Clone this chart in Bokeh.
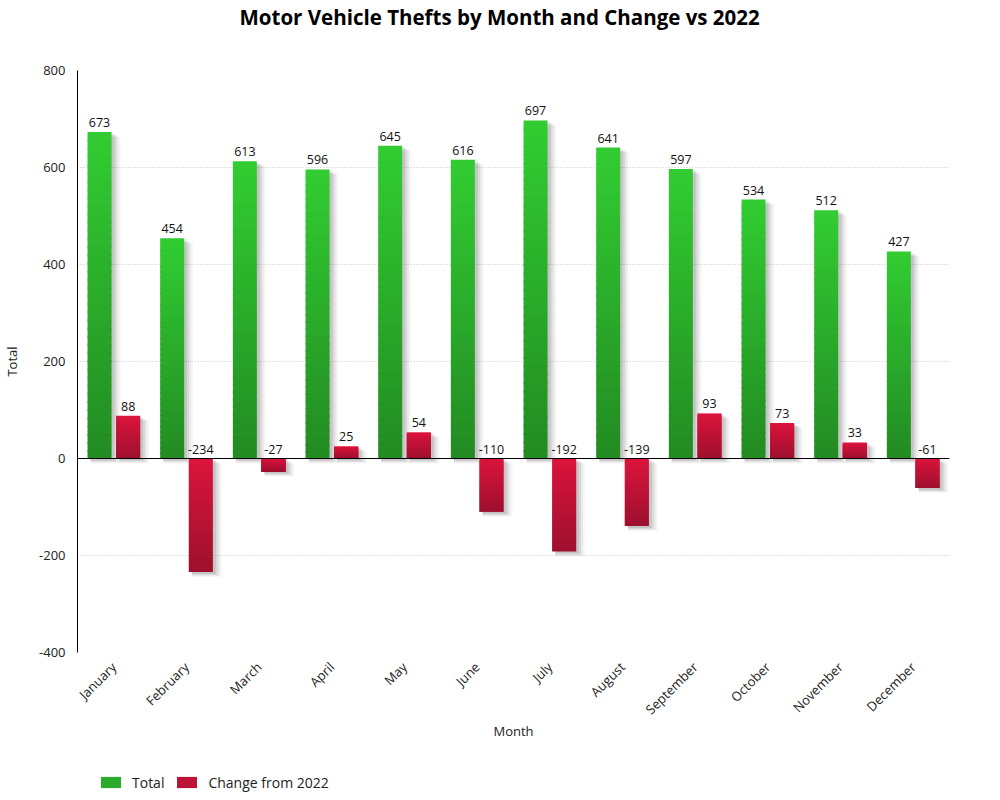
import math
import numpy as np
from bokeh.plotting import figure
from bokeh.layouts import column
from bokeh.models import Span, Legend, LegendItem, ColumnDataSource, Title
from bokeh.transform import dodge
from bokeh.core.properties import value
from bokeh.embed import file_html
from bokeh.resources import INLINE

months = ["January", "February", "March", "April", "May", "June", "July",
          "August", "September", "October", "November", "December"]
totals = [673, 454, 613, 596, 645, 616, 697, 641, 597, 534, 512, 427]
changes = [88, -234, -27, 25, 54, -110, -192, -139, 93, 73, 33, -61]
y_ticks = [-400, -200, 0, 200, 400, 600, 800]
series_names = ["Total", "Change from 2022"]

FONT = "Open Sans"
GREEN_TOP, GREEN_BOT = (50, 205, 50), (34, 139, 34)
RED_TOP, RED_BOT = (220, 20, 60), (158, 16, 47)

p = figure(x_range=months, y_range=(-400, 800), frame_width=872, frame_height=582,
           output_backend="svg", toolbar_location=None,
           min_border_left=0, min_border_right=42, min_border_top=0, min_border_bottom=0)

# spacer between title and frame
p.add_layout(Title(text=" ", text_font=FONT, text_font_size="20px", standoff=11), "above")

p.title.text = "Motor Vehicle Thefts by Month and Change vs 2022"
p.title.text_font = FONT
p.title.text_font_size = "20.5px"
p.title.text_font_style = "bold"
p.title.align = "left"
p.title.text_color = "#000000"
p.title.offset = 162
p.title.standoff = 0

p.outline_line_color = None
p.background_fill_color = "white"
p.border_fill_color = "white"

p.xgrid.grid_line_color = None
p.ygrid.grid_line_color = "#c8c8c8"
p.ygrid.grid_line_dash = "1 2"
p.yaxis.ticker = y_ticks
p.yaxis.major_label_overrides = {t: str(t) for t in y_ticks}

BAR_W = 0.33
OFFS = [-0.197, 0.197]
PX_PER_CAT = 872 / 12
PX_PER_UNIT = 582 / 1200

def hexc(c):
    return "#%02x%02x%02x" % tuple(int(round(v)) for v in c)

def add_series(vals, off, ctop, cbot, n=40):
    vals = np.asarray(vals, dtype=float)
    tops = np.maximum(vals, 0)
    bots = np.minimum(vals, 0)
    # shadow layers
    for k, a in enumerate([0.09, 0.07, 0.05, 0.03]):
        dx = (3 + k) / PX_PER_CAT
        dy = (2 + k) / PX_PER_UNIT
        src = ColumnDataSource(dict(month=months, top=tops - dy, bottom=bots - dy))
        p.vbar(x=dodge("month", off + dx, range=p.x_range), top="top", bottom="bottom",
               width=BAR_W + 2 * k / PX_PER_CAT, source=src, fill_color="#000000",
               fill_alpha=a, line_color=None)
    xs, ts, bs, cs = [], [], [], []
    ov = 1.5 / PX_PER_UNIT
    for m, t, b in zip(months, tops, bots):
        h = t - b
        for i in range(n):
            f = (i + 0.5) / n
            xs.append(m)
            ts.append(t - h * i / n)
            bs.append(max(b, t - h * (i + 1) / n - ov))
            cs.append(hexc([ctop[j] + (cbot[j] - ctop[j]) * f for j in range(3)]))
    src = ColumnDataSource(dict(month=xs, top=ts, bottom=bs, color=cs))
    p.vbar(x=dodge("month", off, range=p.x_range), top="top", bottom="bottom",
           width=BAR_W, source=src, fill_color="color", line_color=None)
    lsrc = ColumnDataSource(dict(month=months, y=tops, text=[str(int(v)) for v in vals]))
    p.text(x=dodge("month", off, range=p.x_range), y="y", text="text", source=lsrc,
           text_font=value(FONT), text_font_size="12.5px", text_align="center",
           text_baseline="bottom", y_offset=-5, text_color="#111111")

add_series(totals, OFFS[0], GREEN_TOP, GREEN_BOT)
add_series(changes, OFFS[1], RED_TOP, RED_BOT)

p.add_layout(Span(location=0, dimension="width", line_color="black", line_width=1.2))

# axes
for ax in [p.xaxis[0], p.yaxis[0]]:
    ax.major_label_text_font = FONT
    ax.major_label_text_font_size = "13px"
    ax.major_label_text_color = "#222222"
    ax.axis_label_text_font = FONT
    ax.axis_label_text_font_size = "13px"
    ax.axis_label_text_font_style = "normal"
    ax.axis_label_text_color = "#222222"
    ax.major_tick_line_color = None
    ax.minor_tick_line_color = None

p.xaxis.axis_label = "Month"
p.xaxis.axis_line_color = None
p.xaxis.major_label_orientation = math.pi / 4
p.xaxis.major_label_standoff = 6
p.xaxis.axis_label_standoff = -6

p.yaxis.axis_label = "Total"
p.yaxis.axis_line_color = "black"
p.yaxis.major_label_standoff = 6
p.yaxis.axis_label_standoff = 15

# legend strip below the chart
p2 = figure(width=984, height=50, x_range=(0, 1), y_range=(0, 1),
            output_backend="svg", toolbar_location=None,
            min_border=0, x_axis_type=None, y_axis_type=None)
p2.outline_line_color = None
p2.grid.visible = False
# off-screen proxies that only provide the legend swatches
g1 = p2.quad(left=[5], right=[6], bottom=[5], top=[6],
             fill_color=hexc([(a + b) / 2 for a, b in zip(GREEN_TOP, GREEN_BOT)]), line_color=None)
g2 = p2.quad(left=[5], right=[6], bottom=[5], top=[6],
             fill_color=hexc([(a + b) / 2 for a, b in zip(RED_TOP, RED_BOT)]), line_color=None)
legend = Legend(items=[LegendItem(label=series_names[0], renderers=[g1]),
                       LegendItem(label=series_names[1], renderers=[g2])],
                orientation="horizontal", location=(21, 0))
legend.label_text_font = FONT
legend.label_text_font_size = "14px"
legend.label_text_color = "#222222"
legend.glyph_width = 25
legend.glyph_height = 14
legend.label_height = 20
legend.label_standoff = 9
legend.spacing = 10
legend.border_line_color = None
legend.background_fill_alpha = 0
legend.margin = 0
legend.padding = 0
p2.add_layout(legend, "center")

open("out.html", "w").write(file_html(column(p, p2), INLINE))
